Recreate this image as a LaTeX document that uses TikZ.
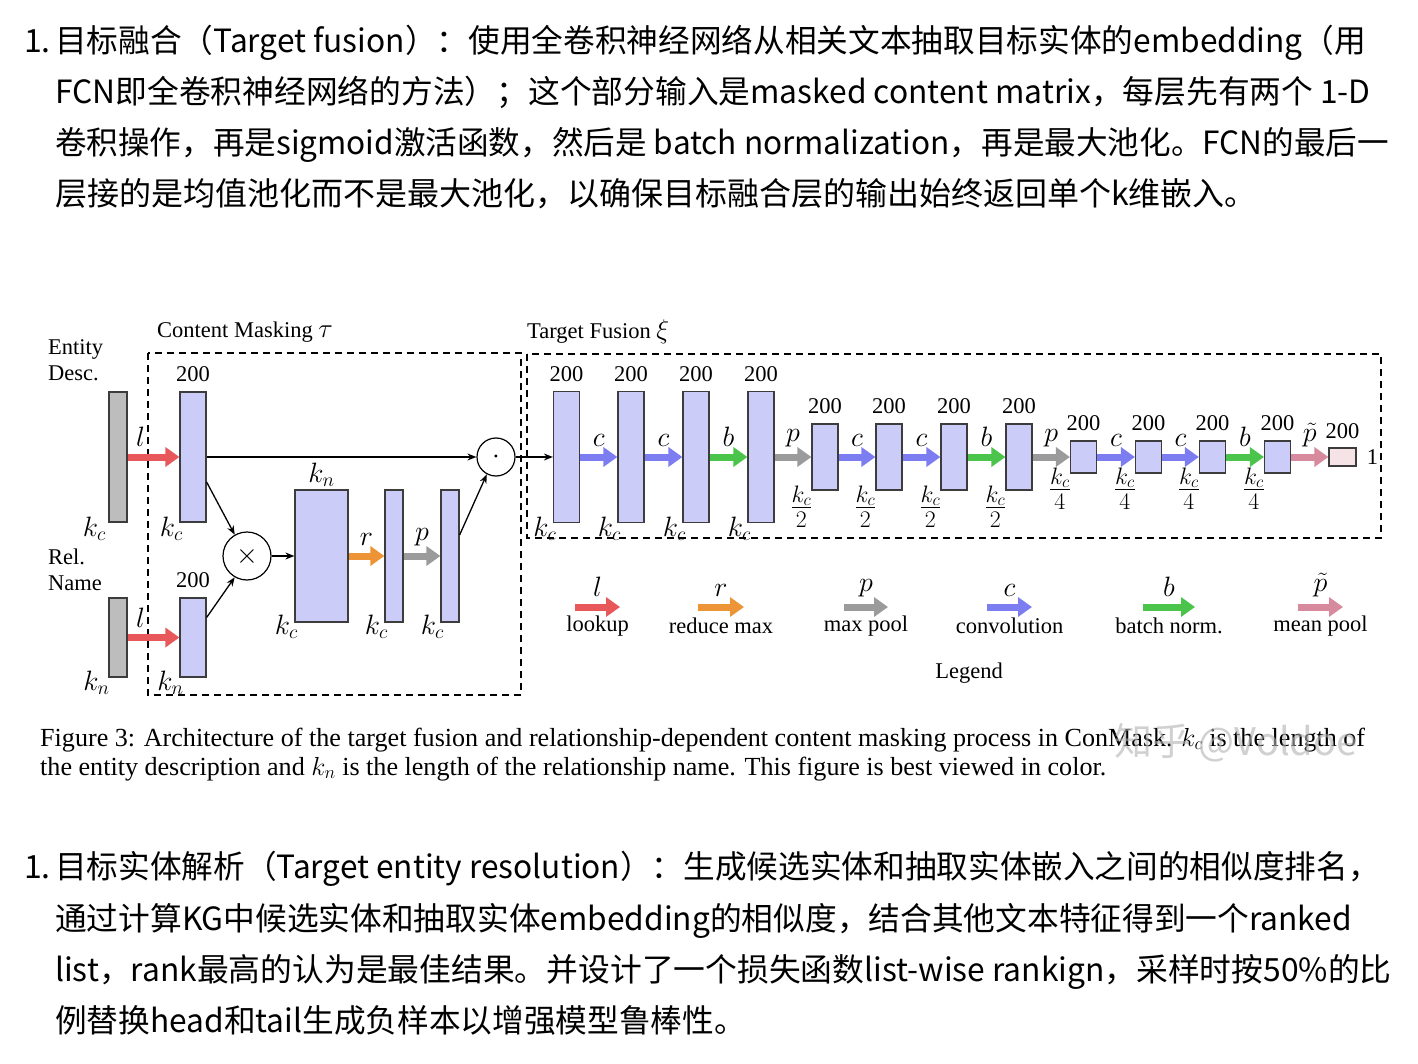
\RequirePackage{fix-cm}
\documentclass[tikz,border=0pt]{standalone}
\usepackage{graphicx}
\usepackage{fontspec}
\setmainfont{Liberation Serif}
\newfontfamily\cjk{Noto Sans CJK SC}
\usetikzlibrary{arrows.meta,calc}
\definecolor{boxfill}{HTML}{CCCCF8}
\definecolor{boxdraw}{HTML}{3C3C3C}
\definecolor{barfill}{HTML}{BDBDBD}
\definecolor{cred}{HTML}{E8575A}
\definecolor{corange}{HTML}{EC9436}
\definecolor{cgray}{HTML}{9B9B9B}
\definecolor{cblue}{HTML}{7D7DF2}
\definecolor{cgreen}{HTML}{4BC44B}
\definecolor{cpink}{HTML}{D7899E}
\definecolor{finalfill}{HTML}{F6E3E6}
\newcommand\hsq[2]{\scalebox{#1}[1]{#2}}
\begin{document}
\begin{tikzpicture}[x=1pt,y=-1pt,
  bx/.style={draw=boxdraw, fill=boxfill, line width=1.2pt, inner sep=0, minimum width=26pt},
  bar/.style={draw=boxdraw, fill=barfill, line width=1.2pt, inner sep=0, minimum width=18pt},
  fat/.style={line width=7pt, -{Triangle[length=14pt,width=19pt]}},
  thinarr/.style={line width=1.3pt, -{Stealth[length=9pt,width=7pt]}},
  lbl/.style={font=\fontsize{22.5}{26}\selectfont, inner sep=0},
  mlbl/.style={font=\fontsize{28}{30}\selectfont, inner sep=0},
  flbl/.style={font=\fontsize{34}{36}\selectfont, inner sep=0},
  oplbl/.style={mlbl, above=7pt, text=black},
  dbox/.style={draw, line width=1.6pt, dash pattern=on 7pt off 5pt},
  cjkline/.style={anchor=base west, inner sep=0, font=\cjk\fontsize{32}{40}\selectfont},
  capline/.style={anchor=base west, inner sep=0, font=\fontsize{26.1}{30}\selectfont},
  opcirc/.style={circle, draw, line width=1.2pt, inner sep=0},
]
\useasboundingbox (0,0) rectangle (1418,1064);
\fill[white] (0,0) rectangle (1418,1064);

% ---------- top text ----------
\node[cjkline] (t0) at (24,53) {1.};
\node[cjkline] (tl1) at (55,53) {\hsq{0.990}{目标融合（Target fusion）：使用全卷积神经网络从相关文本抽取目标实体的embedding（用}};
\node[cjkline] (tl2) at (55,104) {\hsq{0.992}{FCN即全卷积神经网络的方法）；这个部分输入是masked content matrix，每层先有两个 1-D}};
\node[cjkline] (tl3) at (55,155) {\hsq{0.987}{卷积操作，再是sigmoid激活函数，然后是 batch normalization，再是最大池化。FCN的最后一}};
\node[cjkline] (tl4) at (55,206) {层接的是均值池化而不是最大池化，以确保目标融合层的输出始终返回单个k维嵌入。};

% ---------- content masking ----------
\node[lbl, anchor=west, align=left] (ed) at (48,360) {Entity\\Desc.};
\node[lbl, anchor=west, align=left] (rn) at (48,570) {Rel.\\Name};
\node[lbl, anchor=west] (cmt) at (157,332) {Content Masking {\fontsize{27}{28}\selectfont$\tau$}};
\node[lbl, anchor=west] (tft) at (527,332) {Target Fusion {\fontsize{27}{28}\selectfont$\xi$}};
\draw[dbox] (148,353) rectangle (521,695);
\draw[dbox] (527,354) rectangle (1381,538);

\node[bar, minimum height=130pt] (eg) at (118,457) {};
\node[bx, minimum height=130pt] (e1) at (193,457) {};
\node[bar, minimum height=79pt] (rg) at (118,637.5) {};
\node[bx, minimum height=79pt] (r1) at (193,637.5) {};
\node[opcirc, minimum size=48pt] (mul) at (247,556) {\fontsize{28}{30}\selectfont$\times$};
\node[bx, minimum width=53pt, minimum height=132pt] (m1) at (321.5,556) {};
\node[bx, minimum width=18pt, minimum height=132pt] (m2) at (394,556) {};
\node[bx, minimum width=18pt, minimum height=132pt] (m3) at (450,556) {};
\node[opcirc, minimum size=38pt] (dot) at (496,457) {\fontsize{28}{30}\selectfont$\cdot$};

\node[lbl, above=9pt] (e1n) at (e1.north) {200};
\node[lbl, above=9pt] (r1n) at (r1.north) {200};
\node[mlbl] (egk) at ([xshift=-14pt,yshift=-6pt]eg.south west) {$k_c$};
\node[mlbl] (e1k) at ([xshift=-8pt,yshift=-6pt]e1.south west) {$k_c$};
\node[mlbl] (rgk) at ([xshift=-12pt,yshift=-5pt]rg.south west) {$k_n$};
\node[mlbl] (r1k) at ([xshift=-9pt,yshift=-5pt]r1.south west) {$k_n$};
\node[mlbl] (m1k) at ([xshift=-8pt,yshift=-4pt]m1.south west) {$k_c$};
\node[mlbl] (m2k) at ([xshift=-8pt,yshift=-4pt]m2.south west) {$k_c$};
\node[mlbl] (m3k) at ([xshift=-8pt,yshift=-4pt]m3.south west) {$k_c$};
\node[mlbl] (m1n) at ([yshift=15pt]m1.north) {$k_n$};

\draw[fat, cred] (eg.east) -- node[oplbl, pos=0.25]{$l$} (e1.west);
\draw[fat, cred] (rg.east) -- node[oplbl, pos=0.25]{$l$} (r1.west);
\draw[thinarr] (e1.east) -- (dot.west);
\draw[thinarr] ([yshift=-25pt]e1.east) -- (mul.120);
\draw[thinarr] ([yshift=20pt]r1.east) -- (mul.240);
\draw[thinarr] (mul.east) -- (m1.west);
\draw[fat, corange] (m1.east) -- node[oplbl]{$r$} (m2.west);
\draw[fat, cgray] (m2.east) -- node[oplbl]{$p$} (m3.west);
\draw[thinarr] ([yshift=21pt]m3.east) -- (dot.242);

% ---------- target fusion ----------
\foreach \i/\x in {1/566.5,2/631,3/696,4/761}{
  \node[bx, minimum height=131pt] (t\i) at (\x,457) {};
  \node[lbl, above=9pt] (t\i n) at (t\i.north) {200};
  \node[mlbl] (t\i k) at ([xshift=-8pt,yshift=-6pt]t\i.south west) {$k_c$};
}
\foreach \i/\x in {1/825,2/889,3/954,4/1019}{
  \node[bx, minimum height=66pt] (u\i) at (\x,457) {};
  \node[lbl, above=9pt] (u\i n) at (u\i.north) {200};
  \node[flbl] (u\i k) at ([xshift=-10pt,yshift=-16pt]u\i.south west) {$\frac{k_c}{2}$};
}
\foreach \i/\x in {1/1083.5,2/1148.5,3/1212.5,4/1277.5}{
  \node[bx, minimum height=32pt] (v\i) at (\x,457) {};
  \node[lbl, above=9pt] (v\i n) at (v\i.north) {200};
  \node[flbl] (v\i k) at ([xshift=-10pt,yshift=-15pt]v\i.south west) {$\frac{k_c}{4}$};
}
\node[bx, fill=finalfill, minimum width=27pt, minimum height=18pt] (w) at (1342.5,457) {};
\node[lbl, above=8pt] (wn) at (w.north) {200};
\node[lbl, anchor=west] (w1) at ([xshift=10pt]w.east) {1};

\draw[thinarr] (dot.east) -- (t1.west);
\draw[fat, cblue] (t1.east) -- node[oplbl]{$c$} (t2.west);
\draw[fat, cblue] (t2.east) -- node[oplbl]{$c$} (t3.west);
\draw[fat, cgreen] (t3.east) -- node[oplbl]{$b$} (t4.west);
\draw[fat, cgray] (t4.east) -- node[oplbl]{$p$} (u1.west);
\draw[fat, cblue] (u1.east) -- node[oplbl]{$c$} (u2.west);
\draw[fat, cblue] (u2.east) -- node[oplbl]{$c$} (u3.west);
\draw[fat, cgreen] (u3.east) -- node[oplbl]{$b$} (u4.west);
\draw[fat, cgray] (u4.east) -- node[oplbl]{$p$} (v1.west);
\draw[fat, cblue] (v1.east) -- node[oplbl]{$c$} (v2.west);
\draw[fat, cblue] (v2.east) -- node[oplbl]{$c$} (v3.west);
\draw[fat, cgreen] (v3.east) -- node[oplbl]{$b$} (v4.west);
\draw[fat, cpink] (v4.east) -- node[oplbl]{$\tilde{p}$} (w.west);

% ---------- legend ----------
\foreach \n/\a/\b/\col/\sym/\txt in {
  la/575/620/cred/l/lookup,
  lb/698/744/corange/r/reduce max,
  lc/844/888/cgray/p/max pool,
  ld/987/1032/cblue/c/convolution,
  le/1143/1195/cgreen/b/batch norm.,
  lf/1298/1343/cpink/\tilde{p}/mean pool}{
  \coordinate (\n1) at (\a,607);
  \coordinate (\n2) at (\b,607);
  \draw[fat, \col] (\n1) -- node[oplbl]{$\sym$} (\n2);
  \node[lbl] (\n t) at ($(\n1)!0.5!(\n2)+(0,19)$) {\txt};
}
\node[lbl] (leg) at (969,673) {Legend};

% ---------- caption ----------
\node[capline] (c1) at (40,746) {Figure 3: Architecture of the target fusion and relationship-dependent content masking process in ConMask. $k_c$ is the length of};
\node[capline] (c2) at (40,775) {the entity description and $k_n$ is the length of the relationship name. This figure is best viewed in color.};
\node[text=black!30, opacity=0.6, font=\cjk\fontsize{38}{40}\selectfont, inner sep=0] (wm) at (1236,743) {知乎 @Voldoe};

% ---------- bottom text ----------
\node[cjkline] (b0) at (24,878) {1.};
\node[cjkline] (bl1) at (55,878) {\hsq{0.989}{目标实体解析（Target entity resolution）：生成候选实体和抽取实体嵌入之间的相似度排名，}};
\node[cjkline] (bl2) at (55,930) {\hsq{0.991}{通过计算KG中候选实体和抽取实体embedding的相似度，结合其他文本特征得到一个ranked}};
\node[cjkline] (bl3) at (55,981) {\hsq{0.993}{list，rank最高的认为是最佳结果。并设计了一个损失函数list-wise rankign，采样时按50\%的比}};
\node[cjkline] (bl4) at (55,1032) {\hsq{0.99}{例替换head和tail生成负样本以增强模型鲁棒性。}};
\end{tikzpicture}
\end{document}
